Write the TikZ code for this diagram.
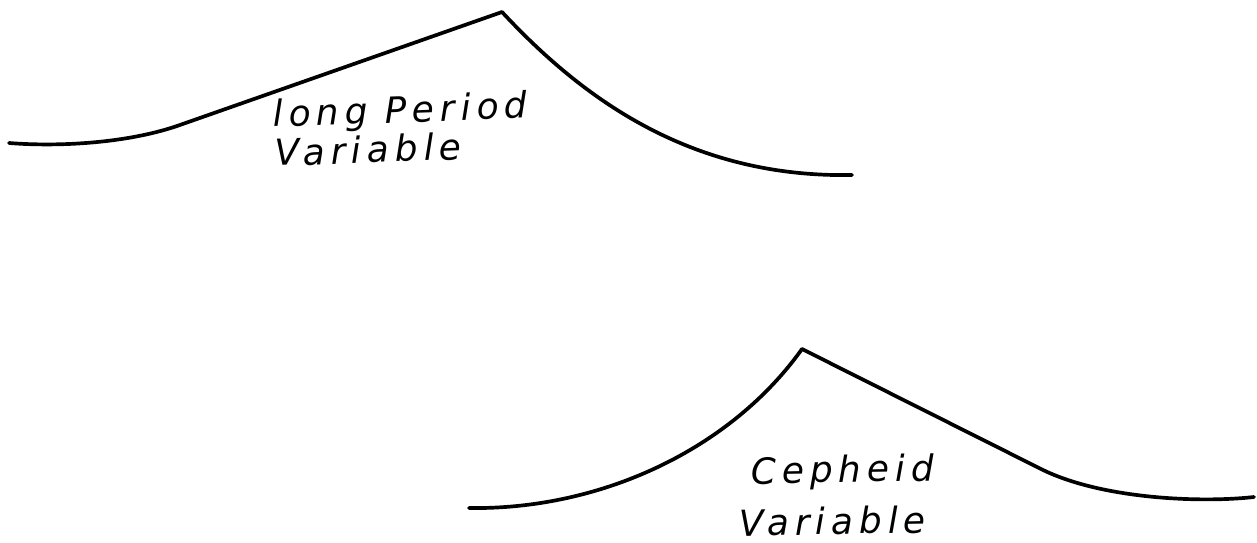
\documentclass[tikz,border=0pt]{standalone}
\usepackage{fontspec}
\newfontfamily\handfont[LetterSpace=16]{DejaVu Sans}
\usetikzlibrary{positioning}

\begin{document}
\begin{tikzpicture}[x=0.02cm, y=-0.02cm,
      curve/.style={line width=2.1pt, line cap=round, line join=round},
      lbl/.style={anchor=base west, inner sep=0pt, rotate=2,
                  font=\handfont\itshape\fontsize{20.5}{24}\selectfont}]

    \useasboundingbox (0,0) rectangle (1257,542);

    % Long period light curve
    \coordinate (lpmax) at (502,12);
    \draw[curve] (9,143) .. controls (60,147) and (127,143) .. (177,126) -- (lpmax);
    \draw[curve] (lpmax) .. controls (582,98) and (690,178) .. (852,175);
    \node[lbl] (lpname) at (273,127) {long Period};
    \node[lbl] (lpvar)  at (275,166) {Variable};

    % Cepheid light curve
    \coordinate (cpmax) at (802,349);
    \coordinate (cpknee) at (1041,469);
    \draw[curve] (469,508) .. controls (600,510) and (730,450) .. (cpmax);
    \draw[curve] (cpmax) -- (cpknee)
        .. controls (1101,499) and (1200,503) .. (1254,497);
    \node[lbl, rotate=-1] (cpname) at (751,484) {Cepheid};
    \node[lbl, rotate=-1] (cpvar)  at (739,536) {Variable};

\end{tikzpicture}
\end{document}
